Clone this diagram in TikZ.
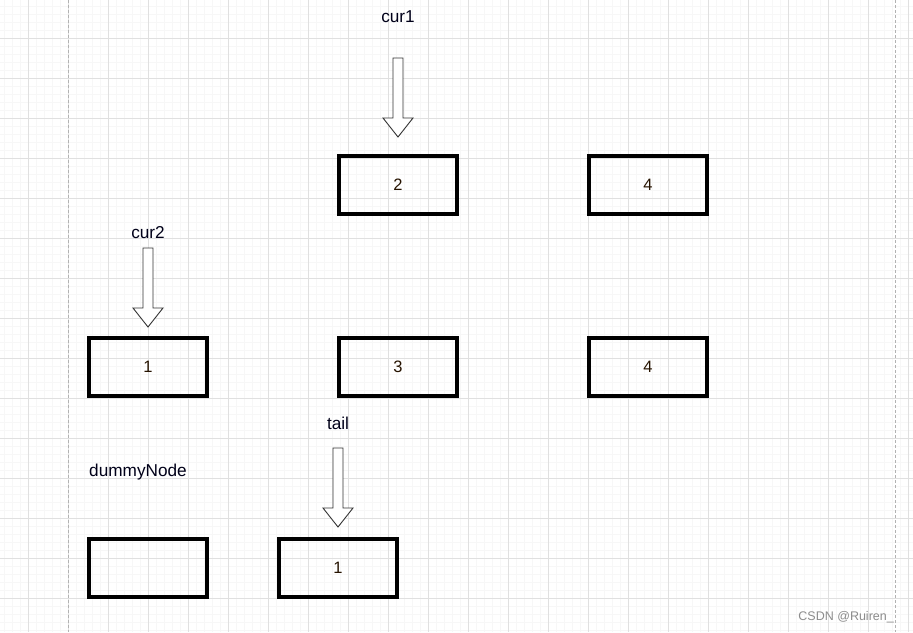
\documentclass[tikz,border=0pt]{standalone}
\usepackage{fontspec}
\setmainfont{Liberation Sans}
\begin{document}
\begin{tikzpicture}[x=1pt,y=-1pt,
  listbox/.style={draw=black,line width=3.6pt,minimum width=118.5pt,minimum height=58.5pt,inner sep=0pt,font=\fontsize{16.5}{18}\selectfont,text=black!85!orange},
  lbl/.style={inner sep=0pt,font=\fontsize{17.2}{19}\selectfont,text=black!90!blue},
  hollowarrow/.style={draw=black!80,line width=0.9pt,fill=white,line join=miter},
  minorgrid/.style={draw=black!3,line width=0.8pt},
  majorgrid/.style={draw=black!12,line width=0.8pt},
  pageedge/.style={draw=black!30,line width=0.8pt,dash pattern=on 3pt off 2pt}]
\useasboundingbox (0,0) rectangle (913,632);
\fill[white] (0,0) rectangle (913,632);
% grid
\foreach \x in {4,12,...,912} \draw[minorgrid] (\x,0) -- (\x,632);
\foreach \y in {6,14,...,631} \draw[minorgrid] (0,\y) -- (913,\y);
\foreach \x in {28,68,...,912} \draw[majorgrid] (\x,0) -- (\x,632);
\foreach \y in {38,78,...,631} \draw[majorgrid] (0,\y) -- (913,\y);
\draw[pageedge] (68,0) -- (68,632);
\draw[pageedge] (895,0) -- (895,632);
% boxes
\node[listbox] (b2) at (398,185) {2};
\node[listbox] (b4a) at (648,185) {4};
\node[listbox] (c1) at (148,367) {1};
\node[listbox] (c3) at (398,367) {3};
\node[listbox] (c4) at (648,367) {4};
\node[listbox] (dummy) at (148,568) {};
\node[listbox] (t1) at (338,568) {1};
% labels
\node[lbl] (lcur1) at (398,17) {cur1};
\node[lbl] (lcur2) at (148,233) {cur2};
\node[lbl] (ltail) at (338,423) {tail};
\node[lbl] (ldummy) at (138,472) {dummyNode};
% hollow arrows
\foreach \cx/\ty in {398/58, 148/248, 338/448}{
  \draw[hollowarrow] (\cx-5,\ty) -- (\cx+5,\ty) -- (\cx+5,\ty+60) -- (\cx+15,\ty+60)
     -- (\cx,\ty+79) -- (\cx-15,\ty+60) -- (\cx-5,\ty+60) -- cycle;
}
% watermark
\node[inner sep=0pt,font=\fontsize{12.5}{14}\selectfont,text=black!45,anchor=east] (wm) at (894,617) {CSDN @Ruiren\_};
\end{tikzpicture}
\end{document}
